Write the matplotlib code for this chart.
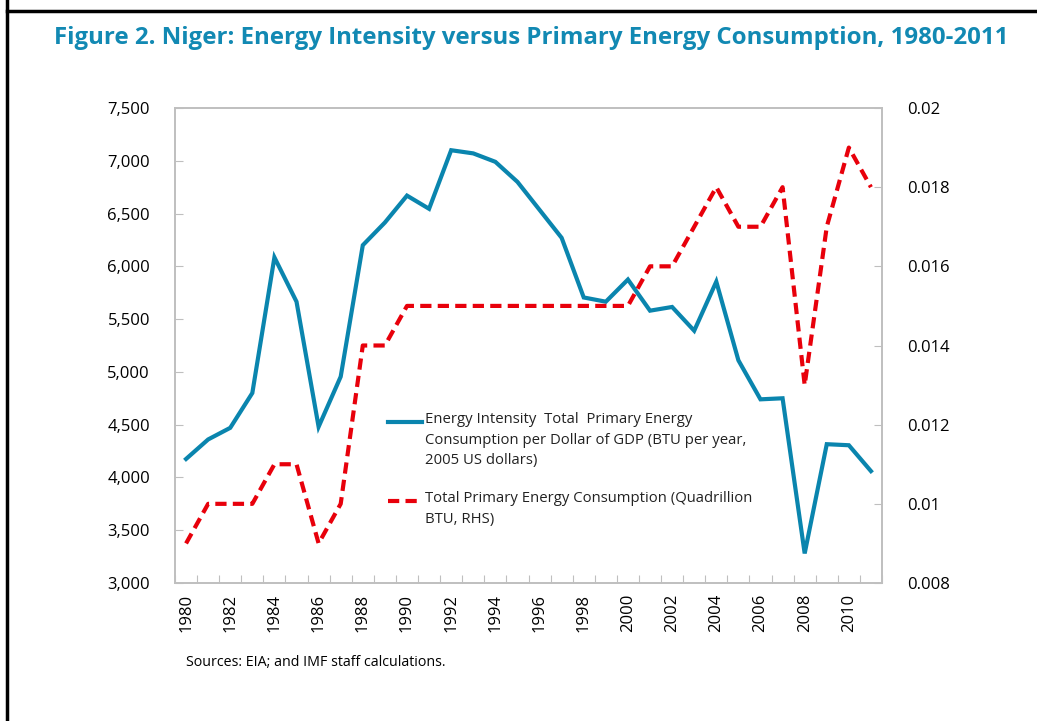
import matplotlib.pyplot as plt
import matplotlib.ticker as mticker
from matplotlib.lines import Line2D
import numpy as np

plt.rcParams['font.family'] = ['Open Sans', 'DejaVu Sans']

years = list(range(1980, 2012))
intensity = [4175, 4360, 4470, 4800, 6085, 5665, 4480, 4955, 6200, 6415,
             6670, 6545, 7100, 7070, 6990, 6800, 6535, 6270, 5705, 5665,
             5875, 5580, 5615, 5390, 5855, 5110, 4740, 4750, 3280, 4315,
             4305, 4060]
consumption = [0.009, 0.010, 0.010, 0.010, 0.011, 0.011, 0.009, 0.010, 0.014, 0.014,
               0.015, 0.015, 0.015, 0.015, 0.015, 0.015, 0.015, 0.015, 0.015, 0.015,
               0.015, 0.016, 0.016, 0.017, 0.018, 0.017, 0.017, 0.018, 0.013, 0.017,
               0.019, 0.018]
label_intensity = "Energy Intensity  Total  Primary Energy\nConsumption per Dollar of GDP (BTU per year,\n2005 US dollars)"
label_consumption = "Total Primary Energy Consumption (Quadrillion\nBTU, RHS)"

blue = '#0a85ae'
red = '#e8000b'
grey = '#bfbfbf'

fig = plt.figure(figsize=(10.37, 7.21), dpi=100)
ax = fig.add_axes([175/1037, 1-583/721, 707/1037, 475/721])
ax2 = ax.twinx()

x = np.arange(len(years))
ax.plot(x, intensity, color=blue, lw=3, solid_joinstyle='miter', zorder=3)
ax2.plot(x, consumption, color=red, lw=3, dashes=(2.7, 1.5), zorder=2)

ax.set_xlim(-0.5, len(years) - 0.5)
ax.set_ylim(3000, 7500)
ax.set_yticks(np.arange(3000, 7501, 500))
ax.yaxis.set_major_formatter(mticker.FuncFormatter(lambda v, p: f'{int(v):,}'))
ax2.set_ylim(0.008, 0.02)
ax2.set_yticks([0.008, 0.01, 0.012, 0.014, 0.016, 0.018, 0.02])
ax2.yaxis.set_major_formatter(mticker.FuncFormatter(lambda v, p: f'{v:g}'))

ax.set_xticks(np.arange(-0.5, len(years), 1))
ax.set_xticklabels([])
ax.set_xticks(x[::2], minor=True)
ax.set_xticklabels([str(y) for y in years[::2]], minor=True, rotation=90)
ax.tick_params(axis='x', which='minor', length=0, pad=8, labelsize=12)
ax.tick_params(axis='x', which='major', direction='in', length=6, color=grey)
ax.tick_params(axis='y', direction='in', length=6, color=grey, labelsize=12, pad=18)
ax2.tick_params(axis='y', direction='in', length=6, color=grey, labelsize=12, pad=18)

for a in (ax, ax2):
    for s in a.spines.values():
        s.set_color(grey)
        s.set_linewidth(1.2)

# legend drawn by hand to keep the handle on the first text line
fig.add_artist(Line2D([388/1037, 422/1037], [1-422/721]*2, color=blue, lw=3))
fig.text(425/1037, 1-412/721, label_intensity, fontsize=10.7, va='top', ha='left',
         linespacing=1.5, color='#222222')
fig.add_artist(Line2D([388/1037, 422/1037], [1-501/721]*2, color=red, lw=3, dashes=(2.7, 1.5)))
fig.text(425/1037, 1-491/721, label_consumption, fontsize=10.7, va='top', ha='left',
         linespacing=1.5, color='#222222')

fig.text(531/1037, 1-38/721, 'Figure 2. Niger: Energy Intensity versus Primary Energy Consumption, 1980-2011',
         fontsize=17.3, fontweight='bold', color='#1289b3', ha='center', va='center')
fig.text(186/1037, 1-662/721, 'Sources: EIA; and IMF staff calculations.', fontsize=10.3,
         ha='left', va='center')

# frame lines
fig.add_artist(Line2D([7/1037, 1], [1-11/721]*2, color='black', lw=2.5))
fig.add_artist(Line2D([7/1037]*2, [0, 1], color='black', lw=2.5))

fig.savefig('out.png', dpi=100)
